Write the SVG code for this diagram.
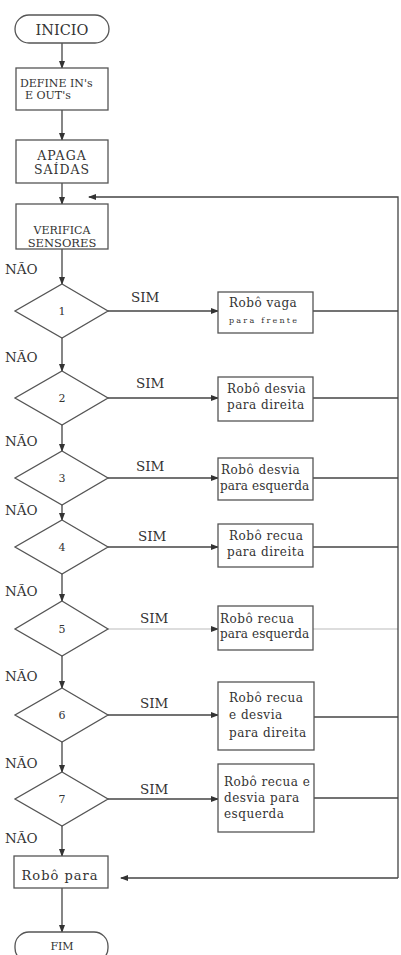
<svg xmlns="http://www.w3.org/2000/svg" width="401" height="955" viewBox="0 0 401 955">
<style>
.s{fill:#fff;stroke:#555;stroke-width:1.3}
.c{fill:none;stroke:#444;stroke-width:1.3}
.l{fill:none;stroke:#bbb;stroke-width:1}
text{font-family:"DejaVu Serif","Liberation Serif",serif;fill:#333;font-size:11px}
.m{text-anchor:middle}
.lb{font-size:13.5px}
.bx{font-size:12px;letter-spacing:0.5px}
.bn{font-size:12px;letter-spacing:0.1px}
</style>
<defs>
<marker id="a" markerWidth="8" markerHeight="8" refX="7" refY="4" orient="auto" markerUnits="userSpaceOnUse">
<path d="M0,1 L8,4 L0,7 Z" fill="#333"/>
</marker>
</defs>
<rect width="401" height="955" fill="#fff"/>
<g id="connectors">
<path class="c" d="M62,43 V68" marker-end="url(#a)"/>
<path class="c" d="M62,110 V140" marker-end="url(#a)"/>
<path class="c" d="M62,183 V204" marker-end="url(#a)"/>
<path class="c" d="M62,249 V284" marker-end="url(#a)"/>
<path class="c" d="M62,338 V371" marker-end="url(#a)"/>
<path class="c" d="M62,425 V451" marker-end="url(#a)"/>
<path class="c" d="M62,505 V520" marker-end="url(#a)"/>
<path class="c" d="M62,574 V601" marker-end="url(#a)"/>
<path class="c" d="M62,656 V688" marker-end="url(#a)"/>
<path class="c" d="M62,742 V772" marker-end="url(#a)"/>
<path class="c" d="M62,826 V856" marker-end="url(#a)"/>
<path class="c" d="M62,888 V932" marker-end="url(#a)"/>
<path class="c" d="M108,311 H218" marker-end="url(#a)"/>
<path class="c" d="M108,398 H218" marker-end="url(#a)"/>
<path class="c" d="M108,478 H218" marker-end="url(#a)"/>
<path class="c" d="M108,547 H218" marker-end="url(#a)"/>
<path class="l" d="M108,629 H218" marker-end="url(#a)"/>
<path class="c" d="M108,715 H218" marker-end="url(#a)"/>
<path class="c" d="M108,799 H218" marker-end="url(#a)"/>
<path class="c" d="M313,311 H398"/>
<path class="c" d="M313,398 H398"/>
<path class="c" d="M313,478 H398"/>
<path class="c" d="M313,547 H398"/>
<path class="l" d="M313,629 H398"/>
<path class="c" d="M314,717 H398"/>
<path class="c" d="M314,798 H398"/>
<path class="c" d="M398,878 V197 H89" marker-end="url(#a)"/>
<path class="c" d="M398,878 H121" marker-end="url(#a)"/>
<text class="lb" x="5" y="274">NÃO</text>
<text class="lb" x="5" y="362">NÃO</text>
<text class="lb" x="5" y="446">NÃO</text>
<text class="lb" x="5" y="515">NÃO</text>
<text class="lb" x="5" y="596">NÃO</text>
<text class="lb" x="5" y="681">NÃO</text>
<text class="lb" x="5" y="768">NÃO</text>
<text class="lb" x="5" y="843">NÃO</text>
<text class="lb" x="131" y="302">SIM</text>
<text class="lb" x="136" y="388">SIM</text>
<text class="lb" x="136" y="471">SIM</text>
<text class="lb" x="138" y="541">SIM</text>
<text class="lb" x="140" y="623">SIM</text>
<text class="lb" x="140" y="708">SIM</text>
<text class="lb" x="140" y="794">SIM</text>
</g>
<g id="inicio"><rect class="s" x="15" y="15" width="94" height="28" rx="14"/><text class="m" x="62" y="35" style="font-size:14.5px">INICIO</text></g>
<g id="define"><rect class="s" x="16" y="68" width="92" height="42"/><text x="20" y="87">DEFINE IN's</text><text x="25" y="99">E OUT's</text></g>
<g id="apaga"><rect class="s" x="16" y="140" width="92" height="43"/><text class="m" x="62" y="160" style="font-size:12.5px;letter-spacing:1px">APAGA</text><text class="m" x="62" y="174" style="font-size:12.5px;letter-spacing:1px">SAÍDAS</text></g>
<g id="verifica"><rect class="s" x="16" y="204" width="92" height="45"/><text class="m" x="62" y="234">VERIFICA</text><text class="m" x="62" y="247" style="font-size:11.5px">SENSORES</text></g>
<g id="d1"><path class="s" d="M62,284 L108,311 L62,338 L15,311 Z"/><text class="m" x="62" y="315">1</text></g>
<g id="d2"><path class="s" d="M62,371 L108,398 L62,425 L15,398 Z"/><text class="m" x="62" y="402">2</text></g>
<g id="d3"><path class="s" d="M62,451 L108,478 L62,505 L15,478 Z"/><text class="m" x="62" y="482">3</text></g>
<g id="d4"><path class="s" d="M62,520 L108,547 L62,574 L15,547 Z"/><text class="m" x="62" y="551">4</text></g>
<g id="d5"><path class="s" d="M62,601 L108,629 L62,656 L15,629 Z"/><text class="m" x="62" y="633">5</text></g>
<g id="d6"><path class="s" d="M62,688 L108,715 L62,742 L15,715 Z"/><text class="m" x="62" y="719">6</text></g>
<g id="d7"><path class="s" d="M62,772 L108,799 L62,826 L15,799 Z"/><text class="m" x="62" y="803">7</text></g>
<g id="b1"><rect class="s" x="218" y="292" width="95" height="41"/><text class="bx" x="229" y="307">Robô vaga</text><text x="229" y="323" style="font-size:8px" textLength="68" lengthAdjust="spacing">para frente</text></g>
<g id="b2"><rect class="s" x="218" y="377" width="95" height="44"/><text class="bx" x="227" y="393">Robô desvia</text><text class="bx" x="227" y="409">para direita</text></g>
<g id="b3"><rect class="s" x="218" y="458" width="95" height="42"/><text class="bx" x="221" y="474">Robô desvia</text><text class="bn" x="220" y="490">para esquerda</text></g>
<g id="b4"><rect class="s" x="218" y="524" width="95" height="43"/><text class="bx" x="229" y="540">Robô recua</text><text class="bx" x="227" y="556">para direita</text></g>
<g id="b5"><rect class="s" x="218" y="606" width="95" height="44"/><text class="bx" x="220" y="623">Robô recua</text><text class="bn" x="220" y="638">para esquerda</text></g>
<g id="b6"><rect class="s" x="218" y="682" width="96" height="68"/><text class="bx" x="229" y="702">Robô recua</text><text class="bx" x="229" y="719">e desvia</text><text class="bx" x="229" y="737">para direita</text></g>
<g id="b7"><rect class="s" x="218" y="764" width="96" height="68"/><text class="bx" x="224" y="786">Robô recua e</text><text class="bx" x="224" y="802">desvia para</text><text class="bx" x="224" y="818">esquerda</text></g>
<g id="para"><rect class="s" x="14" y="856" width="94" height="32"/><text class="m" x="60" y="880" style="font-size:13px;letter-spacing:1px">Robô para</text></g>
<g id="fim"><rect class="s" x="15" y="932" width="93" height="30" rx="14"/><text class="m" x="62" y="950">FIM</text></g>
</svg>
